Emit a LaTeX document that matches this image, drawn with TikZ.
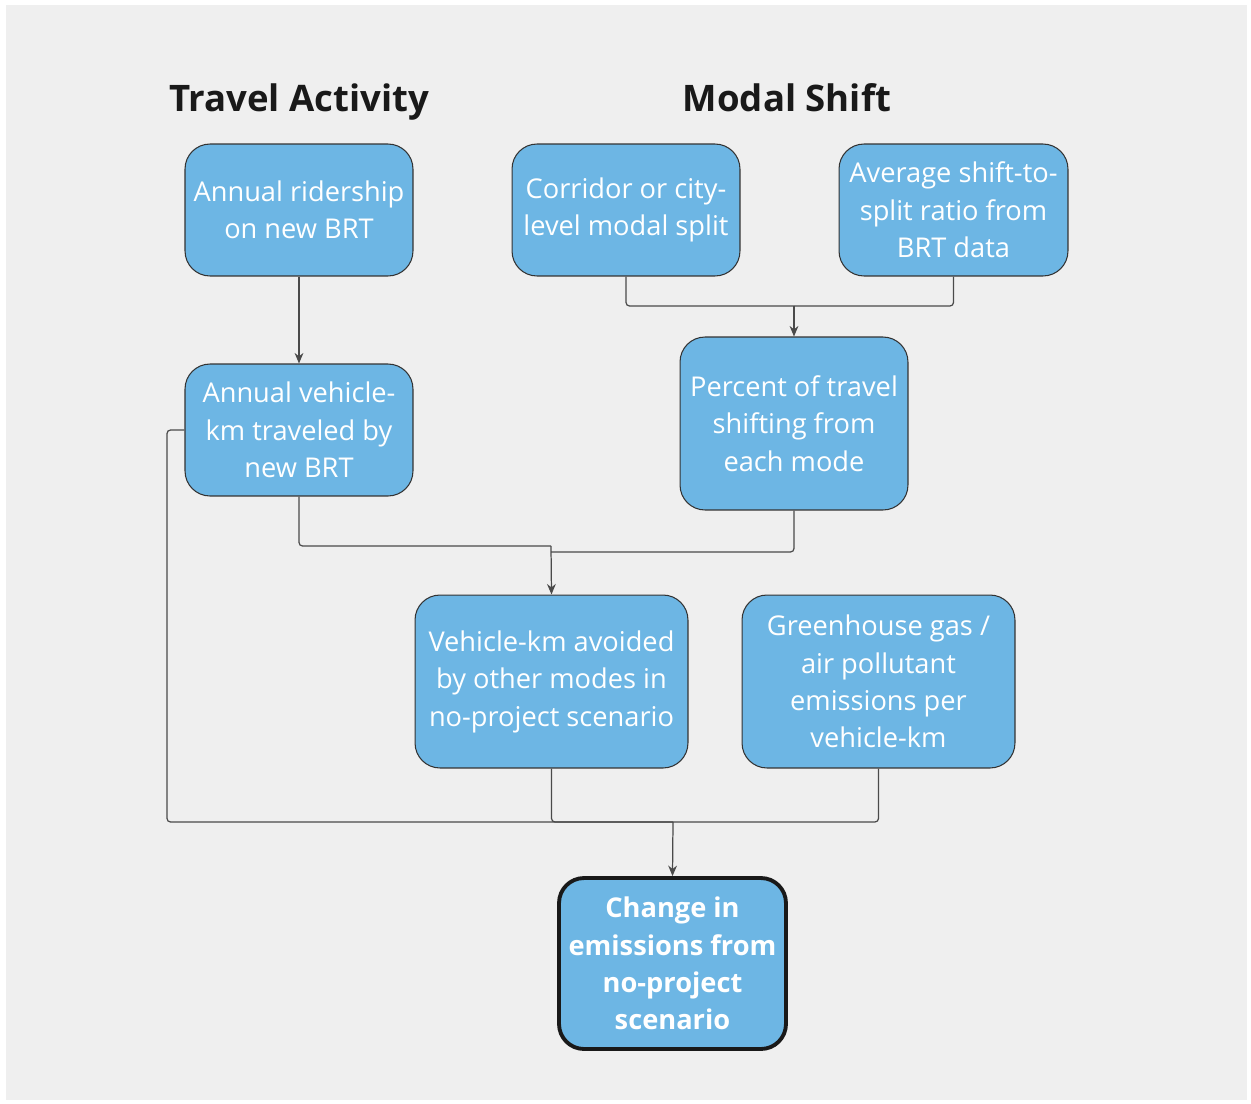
\documentclass[tikz,border=0pt]{standalone}
\usepackage{fontspec}
\setmainfont{Open Sans}
\usepackage{xcolor}
\usetikzlibrary{arrows.meta}

\definecolor{boxblue}{HTML}{6DB6E4}
\definecolor{bggray}{HTML}{EFEFEF}
\definecolor{linegray}{HTML}{4A4A4A}

\tikzset{
  inputbox/.style = {draw = black!80, line width = 0.6pt, fill = boxblue, rounded corners = 0.5cm,
    text = white, align = center, font = \fontsize{15.5}{21.3}\selectfont, inner sep = 0pt},
  resultbox/.style = {inputbox, line width = 2.2pt, draw = black!90, font = \fontsize{15.5}{21.3}\selectfont\bfseries},
  heading/.style = {font = \fontsize{20.8}{24}\selectfont\bfseries, text = black!90, anchor = base},
  link/.style = {draw = linegray, line width = 0.7pt, rounded corners = 2pt},
}

\begin{document}
\begin{tikzpicture}[x = 0.02cm, y = -0.02cm]
	\useasboundingbox (0,0) rectangle (1251,1103);
	\fill [white] (0,0) rectangle (1251,1103);
	\fill [bggray] (6,5) rectangle (1247,1100);

	\begin{scope}
		\node [heading] (travel) at (299,111) {Travel Activity};
		\node [heading] (modal) at (787,111) {Modal Shift};
	\end{scope}

	\begin{scope}
		\node [inputbox, minimum width = 4.56cm, minimum height = 2.64cm] (ridership) at (299,210) {Annual ridership\\on new BRT};
		\node [inputbox, minimum width = 4.56cm, minimum height = 2.64cm] (corridor) at (626,210) {Corridor or city-\\level modal split};
		\node [inputbox, minimum width = 4.58cm, minimum height = 2.64cm] (ratio) at (953.5,210) {Average shift-to-\\split ratio from\\BRT data};
		\node [inputbox, minimum width = 4.56cm, minimum height = 2.64cm] (vehkm) at (299,430) {Annual vehicle-\\km traveled by\\new BRT};
		\node [inputbox, minimum width = 4.56cm, minimum height = 3.46cm] (percent) at (794,423.5) {Percent of travel\\shifting from\\each mode};
		\node [inputbox, minimum width = 5.46cm, minimum height = 3.46cm] (avoided) at (551.5,681.5) {Vehicle-km avoided\\by other modes in\\no-project scenario};
		\node [inputbox, minimum width = 5.46cm, minimum height = 3.46cm] (factor) at (878.5,681.5) {Greenhouse gas /\\air pollutant\\emissions per\\vehicle-km};
		\node [resultbox, minimum width = 4.54cm, minimum height = 3.42cm] (change) at (672.5,963.5) {Change in\\emissions from\\no-project\\scenario};
	\end{scope}

	\begin{scope}[link]
		\coordinate (shiftjoin) at (794,306);
		\coordinate (kmjoin) at (551,546);
		\coordinate (leftturn) at (167,822);
		\coordinate (endjoin) at (673,822);

		\draw [-{Stealth[length=6pt,width=5pt]}] (ridership) -- (vehkm);

		\draw (corridor.south) |- (shiftjoin);
		\draw (ratio.south) |- (shiftjoin);
		\draw [-{Stealth[length=6pt,width=5pt]}] (shiftjoin) -- (percent.north);

		\draw (vehkm.south) |- (kmjoin);
		\draw (percent.south) |- (551,552);
		\draw [-{Stealth[length=6pt,width=5pt]}] (kmjoin) -- (avoided.north);

		\draw (vehkm.west) -| (leftturn) -- (endjoin);
		\draw (avoided.south) |- (endjoin);
		\draw (factor.south) |- (endjoin);
		\draw [-{Stealth[length=6pt,width=5pt]}] (endjoin) -- (change.north);
	\end{scope}
\end{tikzpicture}
\end{document}
